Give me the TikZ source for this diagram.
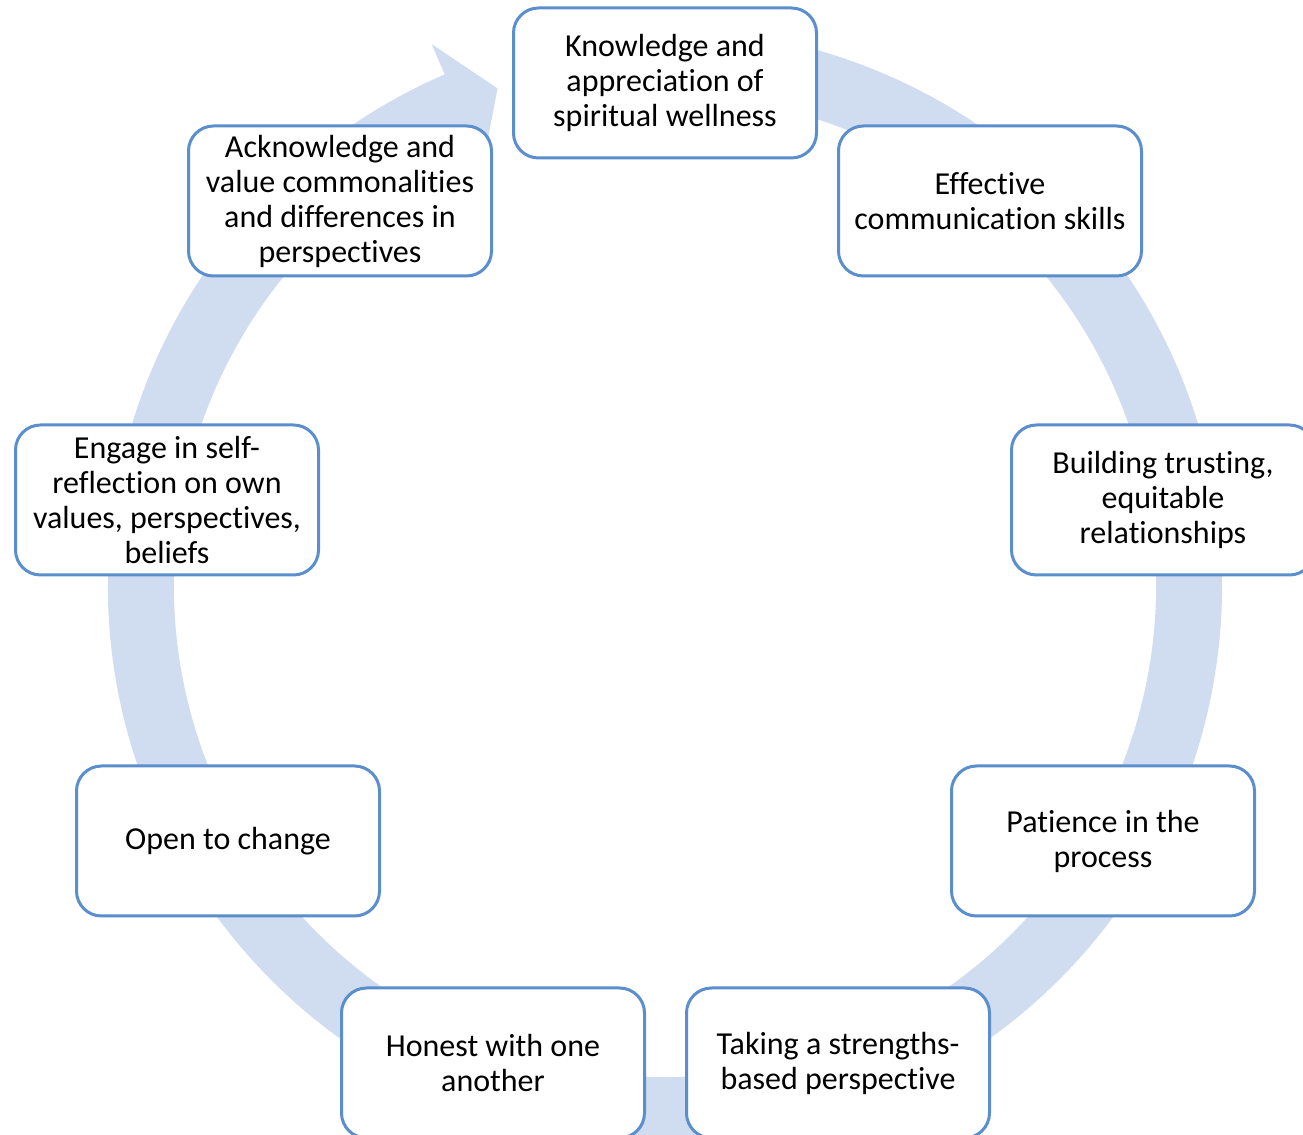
\documentclass[tikz,border=0pt]{standalone}
\usepackage{fontspec}
\setmainfont{Carlito}[Ligatures=NoCommon]
\definecolor{ringblue}{RGB}{208,220,240}
\definecolor{edgeblue}{RGB}{90,142,204}

\begin{document}
\begin{tikzpicture}[x=0.5pt,y=0.5pt,
  block/.style={rectangle,rounded corners=12.5pt,draw=edgeblue,line width=1.5pt,fill=white,
    minimum width=151.5pt,minimum height=75pt,align=center,inner sep=0pt,
    font=\fontsize{16}{17.5}\selectfont}]
\def\rOut{557}
\def\rIn{491}
\def\rTip{525}
\useasboundingbox (0,0) rectangle (1303,1135);
\clip (0,0) rectangle (1303,1135);

% cycle ring, arrow head at the top left
\begin{scope}[shift={(665,549)}]
\fill[ringblue] (80:\rOut) arc[start angle=80,end angle=-246.7,radius=\rOut]
  -- (-246.7:590) -- (-251.4:\rTip) -- (-246.7:460) -- (-246.7:\rIn)
  arc[start angle=-246.7,end angle=80,radius=\rIn] -- cycle;
\end{scope}

\path
(665,1052) node [block] (know) {Knowledge and\\appreciation of\\spiritual wellness}
(990,934) node [block] (comm) {Effective\\communication skills}
(1163,635) node [block] (trust) {Building trusting,\\equitable\\relationships}
(1103,294) node [block] (patience) {Patience in the\\process}
(838,72) node [block] (strength) {Taking a strengths-\\based perspective}
(493,72) node [block] (honest) {Honest with one\\another}
(228,294) node [block] (change) {Open to change}
(167,635) node [block] (reflect) {Engage in self-\\reflection on own\\values, perspectives,\\beliefs}
(340,934) node [block] (values) {Acknowledge and\\value commonalities\\and differences in\\perspectives}
;
\end{tikzpicture}
\end{document}
